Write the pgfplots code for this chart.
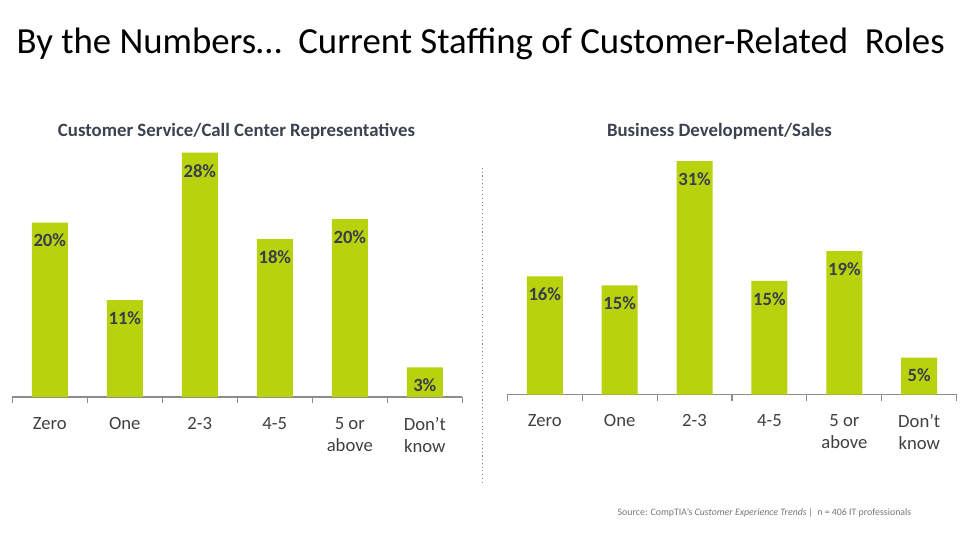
\documentclass[border=0pt]{standalone}
\usepackage{pgfplots}
\pgfplotsset{compat=1.18}
\usepackage{pgfplotstable}
\usepackage{fontspec}
\setmainfont{Carlito}
\definecolor{barc}{RGB}{184,210,14}
\definecolor{labdark}{RGB}{58,62,74}
\definecolor{subc}{RGB}{59,66,80}
\definecolor{tickc}{RGB}{64,64,64}
\definecolor{axisc}{RGB}{140,140,140}
\definecolor{srcc}{RGB}{120,120,120}

\pgfplotstableread{
x y lab
0 20.0 20
1 11.1 11
2 28.0 28
3 18.1 18
4 20.4 20
5 3.4 3
}\leftdata
\pgfplotstableread{
x y lab
0 15.7 16
1 14.5 15
2 31.0 31
3 15.1 15
4 19.05 19
5 4.9 5
}\rightdata

\pgfplotsset{
  mybar/.style={
    scale only axis,
    anchor=south west,
    ybar,
    bar width=27pt,
    xmin=-0.5, xmax=5.5,
    ymin=0, ymax=32,
    axis x line=bottom,
    axis y line=none,
    axis line style={-, draw=axisc, line width=0.8pt},
    xtick={0,...,5},
    xticklabels={Zero,One,2-3,4-5,{5 or\\above},{Don’t\\know}},
    minor xtick={-0.5,0.5,...,5.5},
    tick align=outside,
    major tick length=0pt,
    minor tick length=4.5pt,
    every minor tick/.style={draw=axisc, line width=0.8pt},
    xticklabel style={align=center, text=tickc, font=\fontsize{14pt}{16.5pt}\selectfont, yshift=-11.5pt},
    ytick=\empty,
    clip=false,
    point meta=explicit symbolic,
    nodes near coords={\pgfplotspointmeta\%},
    every node near coord/.append style={anchor=center, yshift=-13.5pt, text=labdark, font=\fontsize{14pt}{17pt}\selectfont\bfseries},
  }
}

\begin{document}
\begin{tikzpicture}
\path[use as bounding box, fill=white] (0,0) rectangle (720pt,405pt);

\node[font=\fontsize{27.6pt}{34pt}\selectfont, text=black] at (360.5pt,372pt) {By the Numbers…\ \ Current Staffing of Customer-Related\ \ Roles};

\node[font=\fontsize{14.1pt}{16pt}\selectfont\bfseries, text=subc] at (177.4pt,306.75pt) {Customer Service/Call Center Representatives};
\node[font=\fontsize{14.1pt}{16pt}\selectfont\bfseries, text=subc] at (539.6pt,306.75pt) {Business Development/Sales};

\draw[axisc, dotted, line width=0.8pt] (361.7pt,279pt) -- (361.7pt,41.25pt);

\begin{axis}[mybar, at={(9.225pt,107.25pt)}, width=337.5pt, height=209.4pt]
\addplot[fill=barc, draw=none] table[x=x, y=y, meta=lab] {\leftdata};
\end{axis}

\begin{axis}[mybar, at={(380.5pt,109.1pt)}, width=337pt, height=180.8pt]
\addplot[fill=barc, draw=none] table[x=x, y=y, meta=lab] {\rightdata};
\end{axis}

\node[anchor=east, font=\fontsize{7.4pt}{9pt}\selectfont, text=srcc] at (687pt,20.25pt) {Source: CompTIA’s \textit{Customer Experience Trends}\,|\ \ n = 406 IT professionals};
\end{tikzpicture}
\end{document}
